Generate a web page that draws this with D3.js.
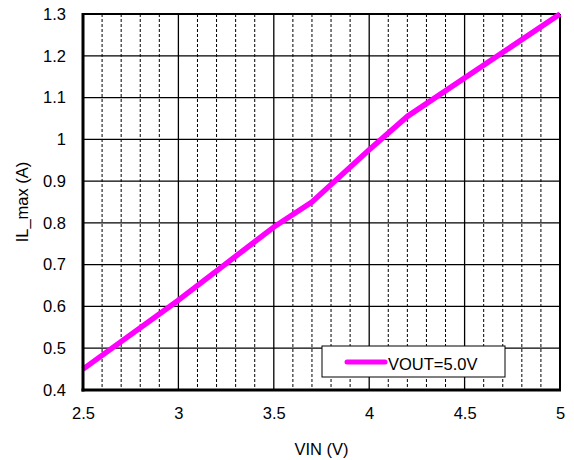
<!DOCTYPE html>
<html>
<head>
<meta charset="utf-8">
<script src="https://cdn.jsdelivr.net/npm/d3@7"></script>
<style>
  html, body { margin: 0; padding: 0; background: #fff; }
  svg text { font-family: "Liberation Sans", Arial, sans-serif; fill: #000; }
</style>
</head>
<body>
<svg id="chart" width="574" height="460"></svg>
<script>
// Maximum inductor current versus input voltage
const vin = [2.5, 3.0, 3.5, 3.7, 4.0, 4.2, 5.0];
const ilMax = [0.45, 0.615, 0.79, 0.85, 0.975, 1.055, 1.3];
const seriesName = "VOUT=5.0V";
const xTicks = [2.5, 3, 3.5, 4, 4.5, 5];
const yTicks = [0.4, 0.5, 0.6, 0.7, 0.8, 0.9, 1, 1.1, 1.2, 1.3];
const xMinor = d3.range(26, 50).map(v => v / 10).filter(v => Math.round(v * 10) % 5 !== 0);

const svg = d3.select("#chart");
const plotL = 83, plotR = 560, plotT = 14, plotB = 390;
const fontSize = 16.5;

const x = d3.scaleLinear().domain([2.5, 5]).range([plotL, plotR]);
const y = d3.scaleLinear().domain([0.4, 1.3]).range([plotB, plotT]);

const grid = svg.append("g");

// dashed minor verticals
grid.selectAll("line.minor").data(xMinor).join("line")
  .attr("class", "minor")
  .attr("x1", d => x(d)).attr("x2", d => x(d))
  .attr("y1", plotT).attr("y2", plotB)
  .attr("stroke", "#000").attr("stroke-width", 1)
  .attr("stroke-dasharray", "3,2");

// solid major verticals
grid.selectAll("line.majorx").data(xTicks.slice(1, -1)).join("line")
  .attr("class", "majorx")
  .attr("x1", d => x(d)).attr("x2", d => x(d))
  .attr("y1", plotT).attr("y2", plotB)
  .attr("stroke", "#000").attr("stroke-width", 1.3);

// solid horizontals
grid.selectAll("line.majory").data(yTicks.slice(1, -1)).join("line")
  .attr("class", "majory")
  .attr("x1", plotL).attr("x2", plotR)
  .attr("y1", d => y(d)).attr("y2", d => y(d))
  .attr("stroke", "#000").attr("stroke-width", 1.3);

// frame
svg.append("line").attr("x1", plotL).attr("x2", plotR).attr("y1", plotT).attr("y2", plotT)
  .attr("stroke", "#000").attr("stroke-width", 2);
svg.append("line").attr("x1", plotR).attr("x2", plotR).attr("y1", plotT).attr("y2", plotB)
  .attr("stroke", "#000").attr("stroke-width", 2);

// series line
const line = d3.line().x((d, i) => x(vin[i])).y(d => y(d));
svg.append("path").datum(ilMax)
  .attr("d", line)
  .attr("fill", "none")
  .attr("stroke", "#FF00FF")
  .attr("stroke-width", 5.5)
  .attr("stroke-linejoin", "round");

// axes
const xAxis = d3.axisBottom(x).tickValues(xTicks).tickSize(0).tickPadding(17)
  .tickFormat(d3.format(""));
const gx = svg.append("g").attr("transform", `translate(0,${plotB})`).call(xAxis);
gx.select(".domain").attr("stroke", "#000").attr("stroke-width", 3)
  .attr("d", `M${plotL - 1.5},0H${plotR + 1}`);
gx.selectAll("text").attr("font-size", fontSize).attr("fill", "#000")
  .attr("font-family", "Liberation Sans, Arial, sans-serif");

const yAxis = d3.axisLeft(y).tickValues(yTicks).tickSize(0).tickPadding(17)
  .tickFormat(d3.format(""));
const gy = svg.append("g").attr("transform", `translate(${plotL},0)`).call(yAxis);
gy.select(".domain").attr("stroke", "#000").attr("stroke-width", 3)
  .attr("d", `M0,${plotT - 1}V${plotB + 1.5}`);
gy.selectAll("text").attr("font-size", fontSize).attr("fill", "#000")
  .attr("font-family", "Liberation Sans, Arial, sans-serif");

// axis titles
svg.append("text").attr("x", (plotL + plotR) / 2).attr("y", 455)
  .attr("text-anchor", "middle").attr("font-size", fontSize).text("VIN (V)");
svg.append("text")
  .attr("transform", `translate(28,${(plotT + plotB) / 2}) rotate(-90)`)
  .attr("text-anchor", "middle").attr("font-size", fontSize).text("IL_max (A)");

// legend
const lg = svg.append("g").attr("transform", "translate(322,346)");
lg.append("rect").attr("width", 183).attr("height", 31)
  .attr("fill", "#fff").attr("stroke", "#000").attr("stroke-width", 1);
lg.append("line").attr("x1", 25).attr("x2", 63).attr("y1", 16).attr("y2", 16)
  .attr("stroke", "#FF00FF").attr("stroke-width", 5).attr("stroke-linecap", "round");
lg.append("text").attr("x", 66).attr("y", 24).attr("font-size", fontSize).text(seriesName);
</script>
</body>
</html>
